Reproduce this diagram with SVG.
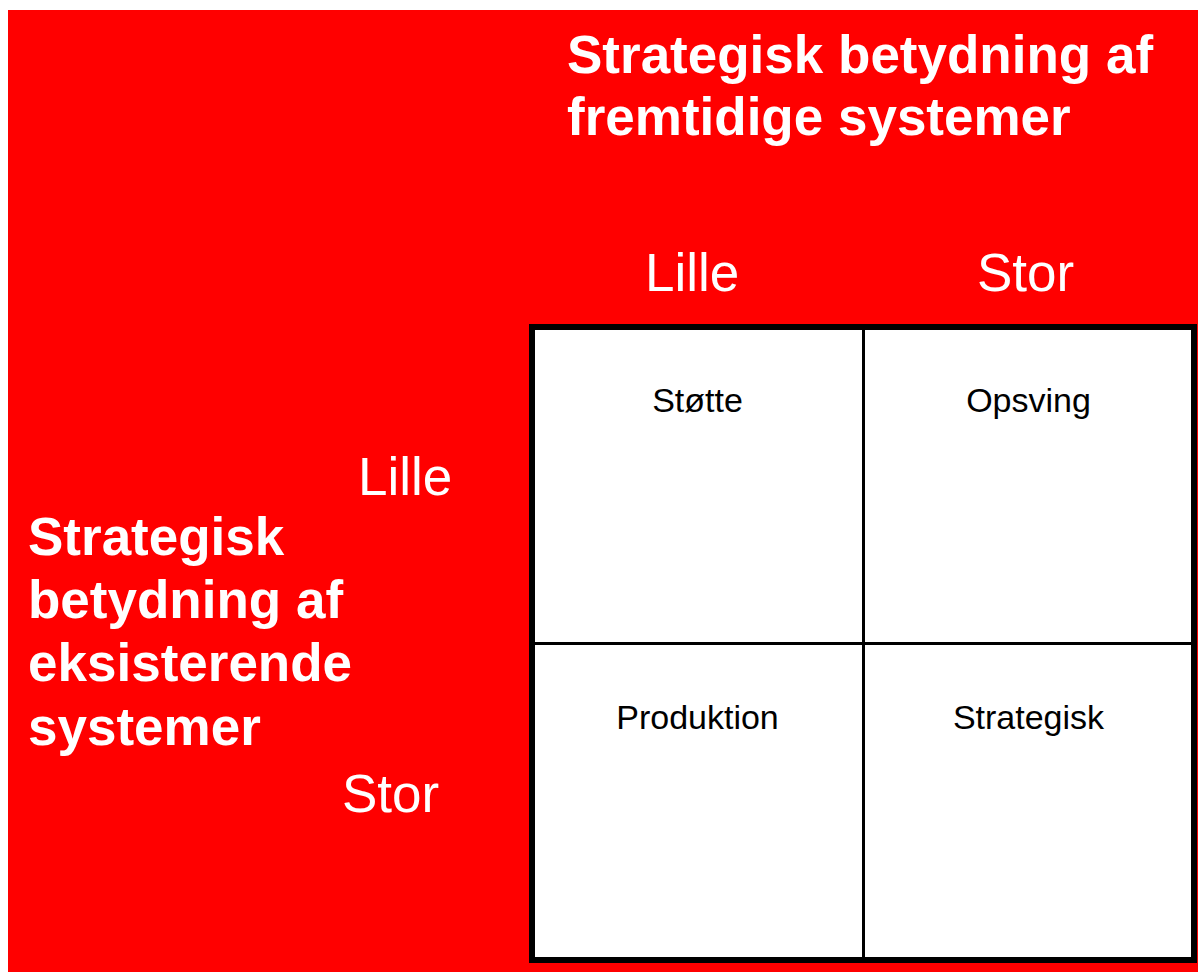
<svg xmlns="http://www.w3.org/2000/svg" width="1198" height="972" viewBox="0 0 1198 972">
<style>
.bt{font-family:"Liberation Sans",Arial,sans-serif;font-weight:bold;font-size:53px;fill:#fff}
.ax{font-family:"Liberation Sans",Arial,sans-serif;font-size:53px;fill:#fff}
.cl{font-family:"Liberation Sans",Arial,sans-serif;font-size:34px;fill:#000;text-anchor:middle}
</style>
<rect id="background" x="8" y="10" width="1190" height="962" fill="#ff0000"/>
<g id="title-top">
<text class="bt" x="567" y="73">Strategisk betydning af</text>
<text class="bt" x="567" y="135">fremtidige systemer</text>
</g>
<g id="title-left">
<text class="bt" x="28" y="555">Strategisk</text>
<text class="bt" x="28" y="618">betydning af</text>
<text class="bt" x="28" y="681">eksisterende</text>
<text class="bt" x="28" y="745">systemer</text>
</g>
<g id="axis-labels">
<text class="ax" x="645" y="291">Lille</text>
<text class="ax" x="977" y="291">Stor</text>
<text class="ax" x="358" y="495">Lille</text>
<text class="ax" x="342" y="812">Stor</text>
</g>
<g id="grid">
<rect x="532" y="327" width="662" height="633" fill="#fff" stroke="#000" stroke-width="6"/>
<line x1="863.5" y1="327" x2="863.5" y2="960" stroke="#000" stroke-width="3"/>
<line x1="532" y1="643.5" x2="1194" y2="643.5" stroke="#000" stroke-width="3"/>
</g>
<g id="cell-stotte"><text class="cl" x="697.5" y="412">Støtte</text></g>
<g id="cell-opsving"><text class="cl" x="1028.5" y="412">Opsving</text></g>
<g id="cell-produktion"><text class="cl" x="697.5" y="729">Produktion</text></g>
<g id="cell-strategisk"><text class="cl" x="1028.5" y="729">Strategisk</text></g>
</svg>
